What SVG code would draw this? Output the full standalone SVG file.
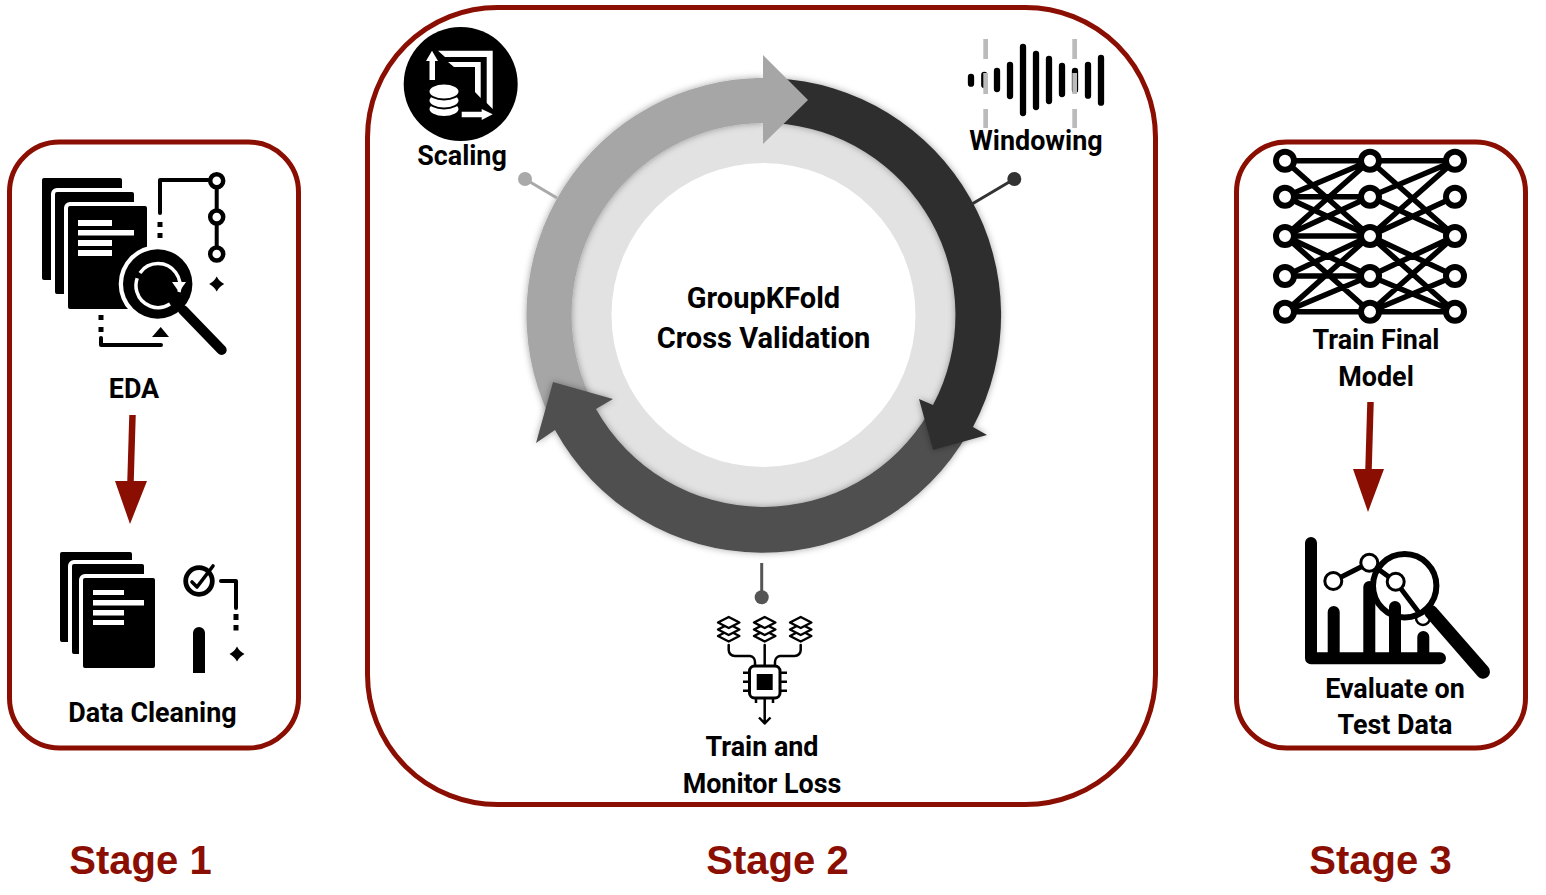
<svg xmlns="http://www.w3.org/2000/svg" width="1546" height="895" viewBox="0 0 1546 895">
<style>
.box{fill:none;stroke:#8a0f02;stroke-width:5}
.lbl{font-family:Roboto,"Liberation Sans",sans-serif;font-weight:700;font-size:26.9px;fill:#000;text-anchor:middle}
.big{font-size:29px}
.stage{font-family:"Liberation Sans",Arial,sans-serif;font-weight:700;font-size:40px;fill:#8a0f02;text-anchor:middle}
.sheet{fill:#000;stroke:#fff;stroke-width:8;paint-order:stroke}
.w{fill:#fff}
.k{fill:#000}
.ln{fill:none;stroke:#000;stroke-width:4;stroke-linecap:round;stroke-linejoin:round}
.node{fill:#fff;stroke:#000;stroke-width:4.500}
.nn{stroke:#000;stroke-width:5.500;stroke-linecap:round;fill:none}
.nnc{fill:#fff;stroke:#000;stroke-width:6}
.bar{stroke:#000;stroke-width:6.300;stroke-linecap:round}
.gd{fill:#bbb}
.dia{fill:#fff;stroke:#000;stroke-width:2.400;stroke-linejoin:round}
.eb{stroke:#000;stroke-width:12;stroke-linecap:round;stroke-linejoin:round;fill:none}
</style>
<defs>
<filter id="sh" x="-20%" y="-20%" width="140%" height="140%"><feDropShadow dx="0" dy="0" stdDeviation="3.500" flood-color="#000" flood-opacity=".35"/></filter>
<path id="star" d="M0-7.500Q2.500-2.500 7.500 0Q2.500 2.500 0 7.500Q-2.500 2.500-7.500 0Q-2.500-2.500 0-7.500Z"/>
<g id="layers">
<path class="dia" d="M0 7.500L10.700 13L0 18.500L-10.700 13Z"/>
<path class="dia" d="M0 1L10.700 6.500L0 12L-10.700 6.500Z"/>
<path class="dia" d="M0-6L10.700-.5L0 5L-10.700-.5Z"/>
</g>
</defs>
<rect width="1546" height="895" fill="#fff"/>

<rect class="box" x="9.500" y="142" width="289" height="606" rx="50"/>
<rect class="box" x="367.500" y="7.500" width="788" height="797" rx="130"/>
<rect class="box" x="1236.500" y="142" width="289" height="606" rx="50"/>

<g id="cycle">
<circle cx="763.500" cy="315" r="205" fill="#e2e2e2"/>
<circle cx="763.500" cy="315" r="152" fill="#fff"/>
<path filter="url(#sh)" fill="#a6a6a6" d="M548.600 415A237 237 0 0 1 763.500 78L763.500 123A192 192 0 0 0 589.500 396Z"/>
<path filter="url(#sh)" fill="#505050" d="M968 433A236.500 236.500 0 0 1 555 430L536 443L553 382L613 399L596 409A192 192 0 0 0 929 412Z"/>
<path filter="url(#sh)" fill="#2f2f2f" d="M775 78.300A237 237 0 0 1 973 427L987 435L933 450L919 399L933 405A192 192 0 0 0 775 123.300Z"/>
<polygon fill="#a6a6a6" points="763,55 808,100 763,144 763,123 755,123 755,78 763,78"/>
</g>
<g id="center-label">
<text class="lbl big" x="763.500" y="308">GroupKFold</text>
<text class="lbl big" x="763.500" y="348">Cross Validation</text>
</g>

<g id="connectors">
<path d="M132.500 415L130.500 482" stroke="#8a0f02" stroke-width="6.500" fill="none"/>
<polygon points="115,481 147,481 130,524" fill="#8a0f02"/>
<path d="M1370.500 402L1368.500 470" stroke="#8a0f02" stroke-width="6.500" fill="none"/>
<polygon points="1353,469 1384,469 1368,512" fill="#8a0f02"/>
<path d="M525 179L557 198" stroke="#a9a9a9" stroke-width="3" fill="none"/><circle cx="525" cy="179" r="7" fill="#a9a9a9"/>
<path d="M1014.300 179L972 204" stroke="#333" stroke-width="3" fill="none"/><circle cx="1014.300" cy="179" r="7" fill="#333"/>
<path d="M761.700 563V597" stroke="#555" stroke-width="3" fill="none"/><circle cx="761.700" cy="597.300" r="7" fill="#555"/>
</g>

<g id="eda">
<rect class="sheet" x="42" y="178" width="80" height="102" rx="2"/>
<rect class="sheet" x="55" y="192" width="79" height="102" rx="2"/>
<rect class="sheet" x="68" y="206" width="79" height="103" rx="2"/>
<rect class="w" x="78" y="220" width="34" height="6"/><rect class="w" x="78" y="230" width="56" height="5.500"/><rect class="w" x="78" y="240" width="34" height="6"/><rect class="w" x="78" y="250" width="34" height="6"/>
<path class="ln" d="M160 213V180H208"/>
<rect class="k" x="157.500" y="222" width="5" height="5"/><rect class="k" x="157.500" y="233" width="5" height="5"/>
<path class="ln" d="M216.700 180V254"/>
<circle class="node" cx="216.700" cy="180.700" r="6.500"/><circle class="node" cx="216.700" cy="217" r="6.500"/><circle class="node" cx="216.700" cy="254" r="6.500"/>
<use href="#star" x="216.700" y="284"/>
<circle cx="157.700" cy="284" r="39" fill="#fff"/>
<circle cx="157.700" cy="284" r="34.700" fill="#000"/>
<path d="M183 310L221.700 350" stroke="#000" stroke-width="10" stroke-linecap="round"/>
<path d="M179 292A22 22 0 1 0 170 304" fill="none" stroke="#fff" stroke-width="3.500" stroke-dasharray="62 6 200"/>
<polygon class="w" points="172,282 186,282 179,292"/>
<rect class="k" x="98.500" y="315" width="5" height="5"/><rect class="k" x="98.500" y="327" width="5" height="5"/>
<path class="ln" d="M101 338V345H161"/>
<polygon class="k" points="152,337 169,337 160.700,327"/>
<text class="lbl" x="134" y="398">EDA</text>
</g>

<g id="data-cleaning">
<rect class="sheet" x="60" y="552" width="72" height="90" rx="2"/>
<rect class="sheet" x="72" y="564" width="72" height="90" rx="2"/>
<rect class="sheet" x="83" y="578" width="72" height="90" rx="2"/>
<rect class="w" x="93" y="590" width="31" height="5"/><rect class="w" x="93" y="600" width="51" height="5.500"/><rect class="w" x="93" y="610" width="31" height="5.500"/><rect class="w" x="93" y="620" width="31" height="5"/>
<circle cx="199" cy="581" r="13.300" fill="none" stroke="#000" stroke-width="4.800"/>
<path class="ln" d="M192 582L197 587L213 566" style="stroke-width:3.600"/>
<path class="ln" d="M221 581H236V608"/>
<rect class="k" x="233.500" y="614" width="5" height="6"/><rect class="k" x="233.500" y="625" width="5" height="5.500"/>
<use href="#star" x="237" y="654"/>
<path class="k" d="M193 633a6 6 0 0 1 12 0V673H193Z"/>
<text class="lbl" x="152.500" y="722">Data Cleaning</text>
</g>

<g id="scaling">
<circle class="k" cx="460.700" cy="84" r="57"/>
<polygon class="w" points="429.500,80 435,80 435,61 438,61 432,50.700 426,61 429.500,61"/>
<polygon class="w" points="438,50.700 492.700,50.700 492.700,109 486.700,103 486.700,57 445,57"/>
<polygon class="w" points="448,62 480.700,62 480.700,98 475,92 475,67 454,67"/>
<polygon class="w" points="461.700,111.700 481.700,111.700 481.700,109 492.700,114.300 481.700,120 481.700,117.300 461.700,117.300"/>
<ellipse class="w" cx="444" cy="109" rx="15.500" ry="8" stroke="#000" stroke-width="2"/>
<ellipse class="w" cx="444" cy="100.500" rx="15.500" ry="8" stroke="#000" stroke-width="2"/>
<ellipse class="w" cx="444" cy="91.500" rx="15.500" ry="8" stroke="#000" stroke-width="2"/>
<text class="lbl" x="462" y="165">Scaling</text>
</g>

<g id="windowing">
<path class="bar" d="M971 77V83.700M984.300 75V85M997 71V89M1010 65V96M1023 47V113M1036 54V107M1049 59V101M1062 66V94M1075 71V90M1088 65V95.700M1101 58V102.700"/>
<rect class="gd" x="983.300" y="39" width="4.700" height="20"/><rect class="gd" x="983.300" y="73" width="4.700" height="21"/><rect class="gd" x="983.300" y="109" width="4.700" height="19"/>
<rect class="gd" x="1072.300" y="39" width="4.700" height="20"/><rect class="gd" x="1072.300" y="73" width="4.700" height="21"/><rect class="gd" x="1072.300" y="109" width="4.700" height="19"/>
<text class="lbl" x="1036" y="150">Windowing</text>
</g>

<g id="train-monitor">
<use href="#layers" x="728.700" y="623"/>
<use href="#layers" x="764.700" y="623"/>
<use href="#layers" x="800.700" y="623"/>
<path class="ln" style="stroke-width:2.500" d="M764.700 645V665M728.700 645V650a6 6 0 0 0 6 6H750a6 6 0 0 1 5 6V665M800.700 645V650a6 6 0 0 1-6 6H780a6 6 0 0 0-5 6V665"/>
<rect x="749.500" y="666" width="30.500" height="32" rx="5" fill="#fff" stroke="#000" stroke-width="3"/>
<rect class="k" x="756.700" y="674" width="16" height="16"/>
<path class="ln" style="stroke-width:2.500;stroke-linecap:butt" d="M743 672.700H749M743 681.700H749M743 690.700H749M780 672.700H787M780 681.700H787M780 690.700H787M756 698V703M773 698V703M764.700 698V723M759 717.500L764.700 723.500L770.500 717.500"/>
<text class="lbl" x="762" y="756">Train and</text>
<text class="lbl" x="762" y="793">Monitor Loss</text>
</g>

<g id="train-final">
<g class="nn">
<path d="M1285 160.700H1455M1285 160.700L1370 236M1285 196.700L1370 160.700M1285 196.700H1370M1285 196.700L1370 236M1285 236L1370 160.700M1285 236L1370 196.700M1285 236H1370M1285 236L1370 276M1285 236L1370 311.700M1285 276L1370 236M1285 276H1370M1285 311.700L1370 236M1285 311.700L1370 276M1285 311.700H1370"/>
<path d="M1370 160.700L1455 236M1370 196.700L1455 160.700M1370 196.700L1455 236M1370 236L1455 160.700M1370 236L1455 196.700M1370 236L1455 276M1370 236L1455 311.700M1370 276L1455 236M1370 276L1455 311.700M1370 311.700L1455 236M1370 311.700L1455 276M1370 311.700H1455"/>
</g>
<g class="nnc">
<circle cx="1285" cy="160.700" r="9"/><circle cx="1285" cy="196.700" r="9"/><circle cx="1285" cy="236" r="9"/><circle cx="1285" cy="276" r="9"/><circle cx="1285" cy="311.700" r="9"/>
<circle cx="1370" cy="160.700" r="9"/><circle cx="1370" cy="196.700" r="9"/><circle cx="1370" cy="236" r="9"/><circle cx="1370" cy="276" r="9"/><circle cx="1370" cy="311.700" r="9"/>
<circle cx="1455" cy="160.700" r="9"/><circle cx="1455" cy="196.700" r="9"/><circle cx="1455" cy="236" r="9"/><circle cx="1455" cy="276" r="9"/><circle cx="1455" cy="311.700" r="9"/>
</g>
<text class="lbl" x="1376" y="349">Train Final</text>
<text class="lbl" x="1376" y="386">Model</text>
</g>

<g id="evaluate">
<path class="eb" d="M1311 543V658.300H1440M1333.700 612V655M1369.300 587V655M1395 607V655M1423.300 637V655"/>
<path d="M1333.300 581L1369.300 562.700L1395.700 581.700L1423 618" fill="none" stroke="#000" stroke-width="5"/>
<circle cx="1423" cy="618" r="7" fill="#fff" stroke="#000" stroke-width="2.500"/>
<circle cx="1333.300" cy="581" r="8.500" fill="#fff" stroke="#000" stroke-width="3"/>
<circle cx="1369.300" cy="562.700" r="8.500" fill="#fff" stroke="#000" stroke-width="3"/>
<circle cx="1395.700" cy="581.700" r="8.500" fill="#fff" stroke="#000" stroke-width="3"/>
<circle cx="1404.700" cy="585.700" r="31.700" fill="none" stroke="#000" stroke-width="6"/>
<path d="M1431 612L1483 671.700" stroke="#000" stroke-width="14" stroke-linecap="round"/>
<text class="lbl" x="1395" y="698">Evaluate on</text>
<text class="lbl" x="1395" y="734">Test Data</text>
</g>

<text class="stage" x="140.500" y="874">Stage 1</text>
<text class="stage" x="777.500" y="874">Stage 2</text>
<text class="stage" x="1380.500" y="874">Stage 3</text>
</svg>
